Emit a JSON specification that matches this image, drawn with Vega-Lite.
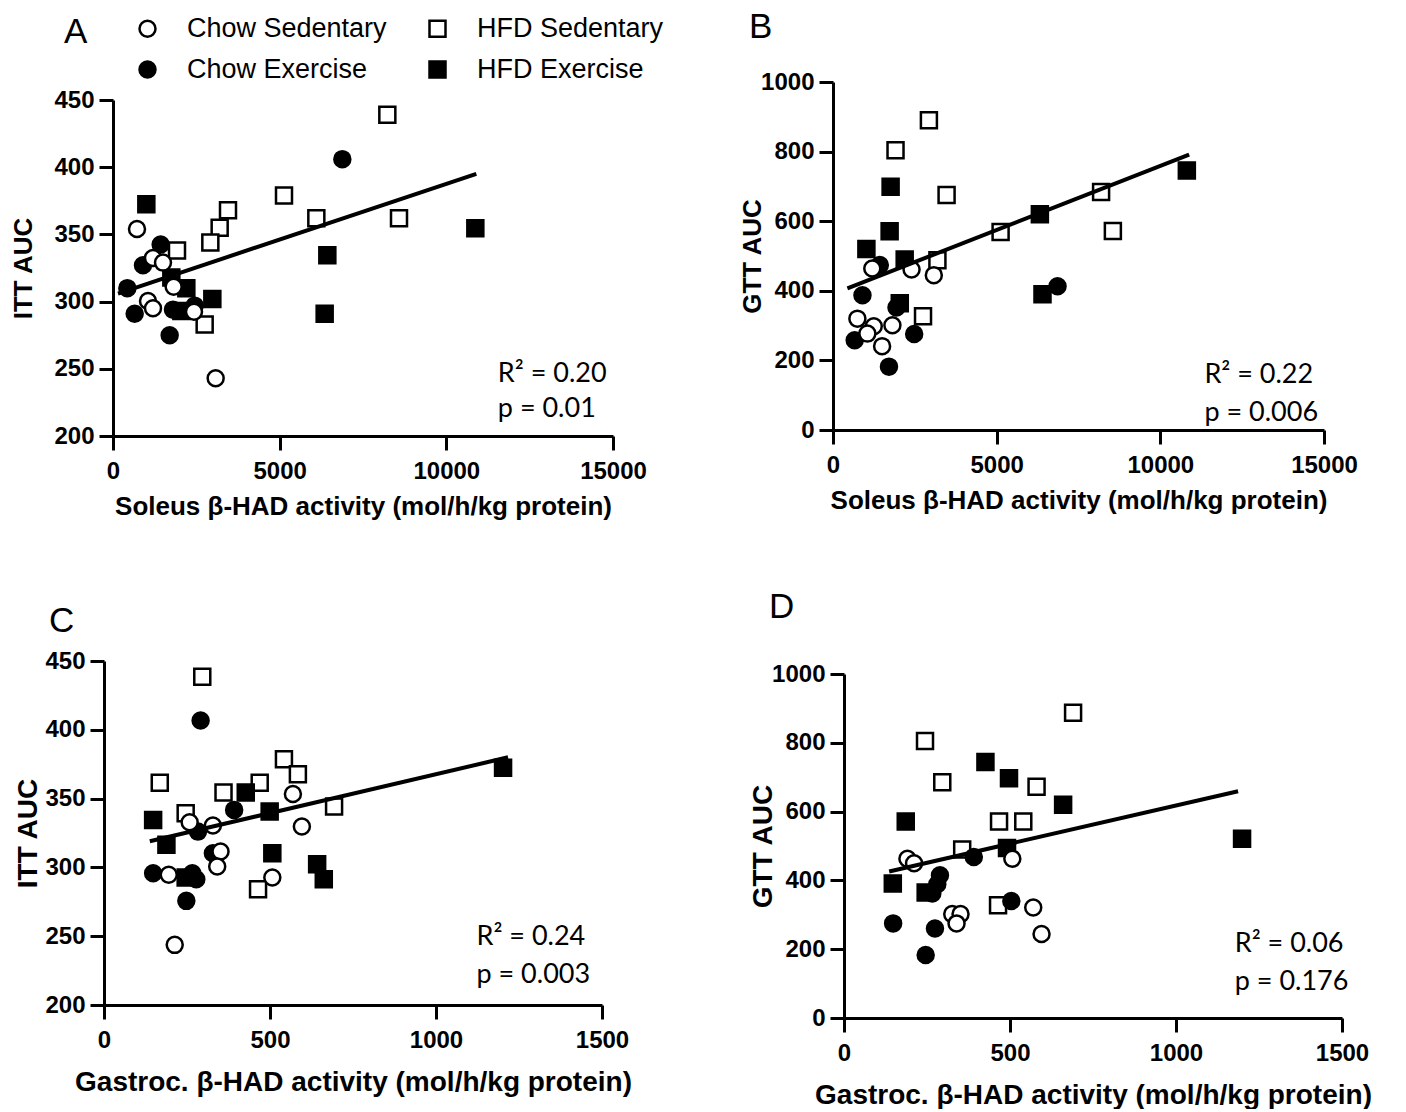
{
  "$schema": "https://vega.github.io/schema/vega-lite/v6.json",
  "background": "white",
  "padding": {"left": 10, "top": 10, "right": 5, "bottom": 0},
  "datasets": {
    "pts": [
      {"panel": "A", "group": "HFD Sedentary", "x": 8230, "y": 439},
      {"panel": "A", "group": "HFD Sedentary", "x": 5130, "y": 379},
      {"panel": "A", "group": "HFD Sedentary", "x": 3450, "y": 368},
      {"panel": "A", "group": "HFD Sedentary", "x": 3200, "y": 355},
      {"panel": "A", "group": "HFD Sedentary", "x": 2920, "y": 344},
      {"panel": "A", "group": "HFD Sedentary", "x": 1920, "y": 338},
      {"panel": "A", "group": "HFD Sedentary", "x": 6100, "y": 362},
      {"panel": "A", "group": "HFD Sedentary", "x": 8580, "y": 362},
      {"panel": "A", "group": "HFD Sedentary", "x": 2750, "y": 283},
      {"panel": "A", "group": "HFD Exercise", "x": 1000, "y": 372.5},
      {"panel": "A", "group": "HFD Exercise", "x": 10870, "y": 354.5},
      {"panel": "A", "group": "HFD Exercise", "x": 6430, "y": 334.5},
      {"panel": "A", "group": "HFD Exercise", "x": 6350, "y": 291},
      {"panel": "A", "group": "HFD Exercise", "x": 2980, "y": 302},
      {"panel": "A", "group": "HFD Exercise", "x": 2200, "y": 310},
      {"panel": "A", "group": "HFD Exercise", "x": 2050, "y": 293},
      {"panel": "A", "group": "HFD Exercise", "x": 1750, "y": 318},
      {"panel": "A", "group": "Chow Exercise", "x": 6880, "y": 406},
      {"panel": "A", "group": "Chow Exercise", "x": 1430, "y": 342.5},
      {"panel": "A", "group": "Chow Exercise", "x": 900, "y": 327},
      {"panel": "A", "group": "Chow Exercise", "x": 430, "y": 310},
      {"panel": "A", "group": "Chow Exercise", "x": 650, "y": 291},
      {"panel": "A", "group": "Chow Exercise", "x": 1700, "y": 275},
      {"panel": "A", "group": "Chow Exercise", "x": 1800, "y": 294},
      {"panel": "A", "group": "Chow Exercise", "x": 2450, "y": 297},
      {"panel": "A", "group": "Chow Sedentary", "x": 720, "y": 354},
      {"panel": "A", "group": "Chow Sedentary", "x": 1200, "y": 332.5},
      {"panel": "A", "group": "Chow Sedentary", "x": 1500, "y": 329},
      {"panel": "A", "group": "Chow Sedentary", "x": 1820, "y": 311},
      {"panel": "A", "group": "Chow Sedentary", "x": 1050, "y": 300.5},
      {"panel": "A", "group": "Chow Sedentary", "x": 1200, "y": 295},
      {"panel": "A", "group": "Chow Sedentary", "x": 2430, "y": 292.5},
      {"panel": "A", "group": "Chow Sedentary", "x": 3080, "y": 243},

      {"panel": "B", "group": "HFD Sedentary", "x": 2930, "y": 890},
      {"panel": "B", "group": "HFD Sedentary", "x": 1910, "y": 804},
      {"panel": "B", "group": "HFD Sedentary", "x": 3470, "y": 675},
      {"panel": "B", "group": "HFD Sedentary", "x": 5120, "y": 569},
      {"panel": "B", "group": "HFD Sedentary", "x": 8190, "y": 684},
      {"panel": "B", "group": "HFD Sedentary", "x": 8550, "y": 572},
      {"panel": "B", "group": "HFD Sedentary", "x": 3190, "y": 488},
      {"panel": "B", "group": "HFD Sedentary", "x": 2750, "y": 327},
      {"panel": "B", "group": "HFD Exercise", "x": 1760, "y": 699},
      {"panel": "B", "group": "HFD Exercise", "x": 1730, "y": 571},
      {"panel": "B", "group": "HFD Exercise", "x": 1020, "y": 520},
      {"panel": "B", "group": "HFD Exercise", "x": 2190, "y": 490},
      {"panel": "B", "group": "HFD Exercise", "x": 10810, "y": 746},
      {"panel": "B", "group": "HFD Exercise", "x": 6320, "y": 620},
      {"panel": "B", "group": "HFD Exercise", "x": 6400, "y": 390},
      {"panel": "B", "group": "HFD Exercise", "x": 2040, "y": 364},
      {"panel": "B", "group": "Chow Exercise", "x": 1430, "y": 474},
      {"panel": "B", "group": "Chow Exercise", "x": 900, "y": 387},
      {"panel": "B", "group": "Chow Exercise", "x": 1940, "y": 352},
      {"panel": "B", "group": "Chow Exercise", "x": 663, "y": 258},
      {"panel": "B", "group": "Chow Exercise", "x": 2480, "y": 276},
      {"panel": "B", "group": "Chow Exercise", "x": 1710, "y": 182},
      {"panel": "B", "group": "Chow Exercise", "x": 6860, "y": 413},
      {"panel": "B", "group": "Chow Sedentary", "x": 1200, "y": 464},
      {"panel": "B", "group": "Chow Sedentary", "x": 2400, "y": 461},
      {"panel": "B", "group": "Chow Sedentary", "x": 3080, "y": 445},
      {"panel": "B", "group": "Chow Sedentary", "x": 745, "y": 320},
      {"panel": "B", "group": "Chow Sedentary", "x": 1245, "y": 298},
      {"panel": "B", "group": "Chow Sedentary", "x": 1815, "y": 301},
      {"panel": "B", "group": "Chow Sedentary", "x": 1050, "y": 277},
      {"panel": "B", "group": "Chow Sedentary", "x": 1500, "y": 241},

      {"panel": "C", "group": "HFD Sedentary", "x": 296, "y": 438.6},
      {"panel": "C", "group": "HFD Sedentary", "x": 168, "y": 361.6},
      {"panel": "C", "group": "HFD Sedentary", "x": 360, "y": 354.4},
      {"panel": "C", "group": "HFD Sedentary", "x": 469, "y": 361.6},
      {"panel": "C", "group": "HFD Sedentary", "x": 542, "y": 378.6},
      {"panel": "C", "group": "HFD Sedentary", "x": 584, "y": 367.7},
      {"panel": "C", "group": "HFD Sedentary", "x": 693, "y": 344.2},
      {"panel": "C", "group": "HFD Sedentary", "x": 246, "y": 339.4},
      {"panel": "C", "group": "HFD Sedentary", "x": 464, "y": 284.2},
      {"panel": "C", "group": "HFD Exercise", "x": 427, "y": 354.4},
      {"panel": "C", "group": "HFD Exercise", "x": 148, "y": 334.5},
      {"panel": "C", "group": "HFD Exercise", "x": 188, "y": 316.4},
      {"panel": "C", "group": "HFD Exercise", "x": 499, "y": 340.6},
      {"panel": "C", "group": "HFD Exercise", "x": 507, "y": 310.3},
      {"panel": "C", "group": "HFD Exercise", "x": 642, "y": 302.3},
      {"panel": "C", "group": "HFD Exercise", "x": 662, "y": 291.4},
      {"panel": "C", "group": "HFD Exercise", "x": 1202, "y": 372.5},
      {"panel": "C", "group": "HFD Exercise", "x": 246, "y": 292.6},
      {"panel": "C", "group": "Chow Exercise", "x": 291, "y": 406.7},
      {"panel": "C", "group": "Chow Exercise", "x": 392, "y": 341.8},
      {"panel": "C", "group": "Chow Exercise", "x": 283, "y": 326},
      {"panel": "C", "group": "Chow Exercise", "x": 328, "y": 310.3},
      {"panel": "C", "group": "Chow Exercise", "x": 148, "y": 295.8},
      {"panel": "C", "group": "Chow Exercise", "x": 278, "y": 291.4},
      {"panel": "C", "group": "Chow Exercise", "x": 248, "y": 275.7},
      {"panel": "C", "group": "Chow Exercise", "x": 266, "y": 295.8},
      {"panel": "C", "group": "Chow Sedentary", "x": 258, "y": 332.8},
      {"panel": "C", "group": "Chow Sedentary", "x": 328, "y": 330.4},
      {"panel": "C", "group": "Chow Sedentary", "x": 569, "y": 353.4},
      {"panel": "C", "group": "Chow Sedentary", "x": 596, "y": 329.7},
      {"panel": "C", "group": "Chow Sedentary", "x": 351, "y": 311.5},
      {"panel": "C", "group": "Chow Sedentary", "x": 341, "y": 300.6},
      {"panel": "C", "group": "Chow Sedentary", "x": 195, "y": 294.6},
      {"panel": "C", "group": "Chow Sedentary", "x": 507, "y": 292.6},
      {"panel": "C", "group": "Chow Sedentary", "x": 213, "y": 243.7},

      {"panel": "D", "group": "HFD Sedentary", "x": 690, "y": 887},
      {"panel": "D", "group": "HFD Sedentary", "x": 244, "y": 805},
      {"panel": "D", "group": "HFD Sedentary", "x": 296, "y": 685},
      {"panel": "D", "group": "HFD Sedentary", "x": 580, "y": 672},
      {"panel": "D", "group": "HFD Sedentary", "x": 467, "y": 571},
      {"panel": "D", "group": "HFD Sedentary", "x": 540, "y": 571},
      {"panel": "D", "group": "HFD Sedentary", "x": 356, "y": 490},
      {"panel": "D", "group": "HFD Sedentary", "x": 464, "y": 328},
      {"panel": "D", "group": "HFD Exercise", "x": 426, "y": 744},
      {"panel": "D", "group": "HFD Exercise", "x": 497, "y": 697},
      {"panel": "D", "group": "HFD Exercise", "x": 660, "y": 620},
      {"panel": "D", "group": "HFD Exercise", "x": 186, "y": 571},
      {"panel": "D", "group": "HFD Exercise", "x": 1199, "y": 521},
      {"panel": "D", "group": "HFD Exercise", "x": 147, "y": 391},
      {"panel": "D", "group": "HFD Exercise", "x": 246, "y": 365},
      {"panel": "D", "group": "HFD Exercise", "x": 491, "y": 494},
      {"panel": "D", "group": "Chow Exercise", "x": 391, "y": 468},
      {"panel": "D", "group": "Chow Exercise", "x": 289, "y": 415},
      {"panel": "D", "group": "Chow Exercise", "x": 281, "y": 389},
      {"panel": "D", "group": "Chow Exercise", "x": 266, "y": 362},
      {"panel": "D", "group": "Chow Exercise", "x": 504, "y": 340},
      {"panel": "D", "group": "Chow Exercise", "x": 148, "y": 275},
      {"panel": "D", "group": "Chow Exercise", "x": 274, "y": 260},
      {"panel": "D", "group": "Chow Exercise", "x": 246, "y": 183},
      {"panel": "D", "group": "Chow Sedentary", "x": 191, "y": 463},
      {"panel": "D", "group": "Chow Sedentary", "x": 211, "y": 450},
      {"panel": "D", "group": "Chow Sedentary", "x": 507, "y": 463},
      {"panel": "D", "group": "Chow Sedentary", "x": 326, "y": 302},
      {"panel": "D", "group": "Chow Sedentary", "x": 351, "y": 302},
      {"panel": "D", "group": "Chow Sedentary", "x": 339, "y": 275},
      {"panel": "D", "group": "Chow Sedentary", "x": 570, "y": 321},
      {"panel": "D", "group": "Chow Sedentary", "x": 595, "y": 244}
    ],
    "lines": [
      {"panel": "A", "x": 150, "y": 306},
      {"panel": "A", "x": 10900, "y": 395},
      {"panel": "B", "x": 440, "y": 407},
      {"panel": "B", "x": 10880, "y": 791},
      {"panel": "C", "x": 138, "y": 319},
      {"panel": "C", "x": 1217, "y": 380},
      {"panel": "D", "x": 136, "y": 426},
      {"panel": "D", "x": 1187, "y": 659}
    ]
  },
  "resolve": {"scale": {"x": "independent", "y": "independent", "fill": "shared", "shape": "shared", "stroke": "shared"}},
  "spacing": 71,
  "vconcat": [
    {
      "resolve": {"scale": {"x": "independent", "y": "independent", "fill": "shared", "shape": "shared", "stroke": "shared"}},
      "spacing": 92,
      "hconcat": [
        {
          "width": 509, "height": 354,
          "title": {"text": "A", "anchor": "start", "frame": "group", "dx": -40, "offset": 32, "fontSize": 35, "font": "Liberation Sans", "fontWeight": "normal", "color": "black"},
          "layer": [
            {
              "data": {"name": "pts"},
              "transform": [{"filter": "datum.panel === 'A'"}],
              "mark": {"type": "point", "filled": true, "strokeWidth": 2.5, "size": 256, "opacity": 1},
              "encoding": {
                "x": {"field": "x", "type": "quantitative", "scale": {"domain": [0, 15000], "range": [9, 509], "nice": false, "zero": false}, "axis": {"values": [0, 5000, 10000, 15000], "format": "d", "title": "Soleus β-HAD activity (mol/h/kg protein)", "titleFontSize": 26, "titlePadding": 10}},
                "y": {"field": "y", "type": "quantitative", "scale": {"domain": [200, 450], "range": [354, 18], "nice": false, "zero": false}, "axis": {"values": [200, 250, 300, 350, 400, 450], "format": "d", "title": "ITT AUC", "offset": -9, "titleFontSize": 26, "titlePadding": 17}},
                "fill": {"field": "group", "type": "nominal", "scale": {"domain": ["Chow Sedentary", "Chow Exercise", "HFD Sedentary", "HFD Exercise"], "range": ["white", "black", "white", "black"]}, "legend": {"title": null}},
                "shape": {"field": "group", "type": "nominal", "scale": {"domain": ["Chow Sedentary", "Chow Exercise", "HFD Sedentary", "HFD Exercise"], "range": ["circle", "circle", "square", "square"]}, "legend": {"title": null}},
                "stroke": {"field": "group", "type": "nominal", "scale": {"domain": ["Chow Sedentary", "Chow Exercise", "HFD Sedentary", "HFD Exercise"], "range": ["black", "black", "black", "black"]}, "legend": {"title": null}}
              }
            },
            {
              "data": {"name": "lines"},
              "transform": [{"filter": "datum.panel === 'A'"}],
              "mark": {"type": "line", "color": "black", "strokeWidth": 4},
              "encoding": {"x": {"field": "x", "type": "quantitative"}, "y": {"field": "y", "type": "quantitative"}}
            },
            {
              "data": {"values": [{}]},
              "mark": {"type": "text", "align": "left", "baseline": "middle", "font": "Lato", "fontSize": 27, "color": "black"},
              "encoding": {"x": {"datum": 11545}, "y": {"datum": 246}, "text": {"value": "R² = 0.20"}}
            },
            {
              "data": {"values": [{}]},
              "mark": {"type": "text", "align": "left", "baseline": "middle", "font": "Lato", "fontSize": 27, "color": "black"},
              "encoding": {"x": {"datum": 11545}, "y": {"datum": 220}, "text": {"value": "p = 0.01"}}
            }
          ]
        },
        {
          "width": 491, "height": 354,
          "title": {"text": "B", "anchor": "start", "frame": "group", "dx": -84, "offset": 25, "fontSize": 35, "font": "Liberation Sans", "fontWeight": "normal", "color": "black"},
          "layer": [
            {
              "data": {"name": "pts"},
              "transform": [{"filter": "datum.panel === 'B'"}],
              "mark": {"type": "point", "filled": true, "strokeWidth": 2.5, "size": 256, "opacity": 1},
              "encoding": {
                "x": {"field": "x", "type": "quantitative", "scale": {"domain": [0, 15000], "nice": false, "zero": false}, "axis": {"values": [0, 5000, 10000, 15000], "format": "d", "title": "Soleus β-HAD activity (mol/h/kg protein)", "offset": -6, "titleFontSize": 26, "titlePadding": 10}},
                "y": {"field": "y", "type": "quantitative", "scale": {"domain": [0, 1000], "range": [348, 0], "nice": false, "zero": false}, "axis": {"values": [0, 200, 400, 600, 800, 1000], "format": "d", "title": "GTT AUC", "titleFontSize": 26, "titlePadding": -5}},
                "fill": {"field": "group", "type": "nominal", "scale": {"domain": ["Chow Sedentary", "Chow Exercise", "HFD Sedentary", "HFD Exercise"], "range": ["white", "black", "white", "black"]}, "legend": {"title": null}},
                "shape": {"field": "group", "type": "nominal", "scale": {"domain": ["Chow Sedentary", "Chow Exercise", "HFD Sedentary", "HFD Exercise"], "range": ["circle", "circle", "square", "square"]}, "legend": {"title": null}},
                "stroke": {"field": "group", "type": "nominal", "scale": {"domain": ["Chow Sedentary", "Chow Exercise", "HFD Sedentary", "HFD Exercise"], "range": ["black", "black", "black", "black"]}, "legend": {"title": null}}
              }
            },
            {
              "data": {"name": "lines"},
              "transform": [{"filter": "datum.panel === 'B'"}],
              "mark": {"type": "line", "color": "black", "strokeWidth": 4},
              "encoding": {"x": {"field": "x", "type": "quantitative"}, "y": {"field": "y", "type": "quantitative"}}
            },
            {
              "data": {"values": [{}]},
              "mark": {"type": "text", "align": "left", "baseline": "middle", "font": "Lato", "fontSize": 27, "color": "black"},
              "encoding": {"x": {"datum": 11347}, "y": {"datum": 158}, "text": {"value": "R² = 0.22"}}
            },
            {
              "data": {"values": [{}]},
              "mark": {"type": "text", "align": "left", "baseline": "middle", "font": "Lato", "fontSize": 27, "color": "black"},
              "encoding": {"x": {"datum": 11347}, "y": {"datum": 49}, "text": {"value": "p = 0.006"}}
            }
          ]
        }
      ]
    },
    {
      "resolve": {"scale": {"x": "independent", "y": "independent", "fill": "shared", "shape": "shared", "stroke": "shared"}},
      "spacing": 117,
      "hconcat": [
        {
          "width": 498, "height": 357,
          "title": {"text": "C", "anchor": "start", "frame": "group", "dx": -55, "offset": 10, "fontSize": 35, "font": "Liberation Sans", "fontWeight": "normal", "color": "black"},
          "layer": [
            {
              "data": {"name": "pts"},
              "transform": [{"filter": "datum.panel === 'C'"}],
              "mark": {"type": "point", "filled": true, "strokeWidth": 2.5, "size": 256, "opacity": 1},
              "encoding": {
                "x": {"field": "x", "type": "quantitative", "scale": {"domain": [0, 1500], "nice": false, "zero": false}, "axis": {"values": [0, 500, 1000, 1500], "format": "d", "title": "Gastroc. β-HAD activity (mol/h/kg protein)", "offset": -13, "titleFontSize": 28, "titlePadding": 16}},
                "y": {"field": "y", "type": "quantitative", "scale": {"domain": [200, 450], "range": [344, 0], "nice": false, "zero": false}, "axis": {"values": [200, 250, 300, 350, 400, 450], "format": "d", "title": "ITT AUC", "titleFontSize": 28, "titlePadding": 2}},
                "fill": {"field": "group", "type": "nominal", "scale": {"domain": ["Chow Sedentary", "Chow Exercise", "HFD Sedentary", "HFD Exercise"], "range": ["white", "black", "white", "black"]}, "legend": {"title": null}},
                "shape": {"field": "group", "type": "nominal", "scale": {"domain": ["Chow Sedentary", "Chow Exercise", "HFD Sedentary", "HFD Exercise"], "range": ["circle", "circle", "square", "square"]}, "legend": {"title": null}},
                "stroke": {"field": "group", "type": "nominal", "scale": {"domain": ["Chow Sedentary", "Chow Exercise", "HFD Sedentary", "HFD Exercise"], "range": ["black", "black", "black", "black"]}, "legend": {"title": null}}
              }
            },
            {
              "data": {"name": "lines"},
              "transform": [{"filter": "datum.panel === 'C'"}],
              "mark": {"type": "line", "color": "black", "strokeWidth": 4},
              "encoding": {"x": {"field": "x", "type": "quantitative"}, "y": {"field": "y", "type": "quantitative"}}
            },
            {
              "data": {"values": [{}]},
              "mark": {"type": "text", "align": "left", "baseline": "middle", "font": "Lato", "fontSize": 27, "color": "black"},
              "encoding": {"x": {"datum": 1122}, "y": {"datum": 249.6}, "text": {"value": "R² = 0.24"}}
            },
            {
              "data": {"values": [{}]},
              "mark": {"type": "text", "align": "left", "baseline": "middle", "font": "Lato", "fontSize": 27, "color": "black"},
              "encoding": {"x": {"datum": 1122}, "y": {"datum": 221.8}, "text": {"value": "p = 0.003"}}
            }
          ]
        },
        {
          "width": 498, "height": 357,
          "title": {"text": "D", "anchor": "start", "frame": "group", "dx": -75, "offset": 36, "fontSize": 35, "font": "Liberation Sans", "fontWeight": "normal", "color": "black"},
          "layer": [
            {
              "data": {"name": "pts"},
              "transform": [{"filter": "datum.panel === 'D'"}],
              "mark": {"type": "point", "filled": true, "strokeWidth": 2.5, "size": 256, "opacity": 1},
              "encoding": {
                "x": {"field": "x", "type": "quantitative", "scale": {"domain": [0, 1500], "nice": false, "zero": false}, "axis": {"values": [0, 500, 1000, 1500], "format": "d", "title": "Gastroc. β-HAD activity (mol/h/kg protein)", "titleFontSize": 28, "titlePadding": 16}},
                "y": {"field": "y", "type": "quantitative", "scale": {"domain": [0, 1000], "range": [357, 13], "nice": false, "zero": false}, "axis": {"values": [0, 200, 400, 600, 800, 1000], "format": "d", "title": "GTT AUC", "titleFontSize": 28, "titlePadding": -6}},
                "fill": {"field": "group", "type": "nominal", "scale": {"domain": ["Chow Sedentary", "Chow Exercise", "HFD Sedentary", "HFD Exercise"], "range": ["white", "black", "white", "black"]}, "legend": {"title": null}},
                "shape": {"field": "group", "type": "nominal", "scale": {"domain": ["Chow Sedentary", "Chow Exercise", "HFD Sedentary", "HFD Exercise"], "range": ["circle", "circle", "square", "square"]}, "legend": {"title": null}},
                "stroke": {"field": "group", "type": "nominal", "scale": {"domain": ["Chow Sedentary", "Chow Exercise", "HFD Sedentary", "HFD Exercise"], "range": ["black", "black", "black", "black"]}, "legend": {"title": null}}
              }
            },
            {
              "data": {"name": "lines"},
              "transform": [{"filter": "datum.panel === 'D'"}],
              "mark": {"type": "line", "color": "black", "strokeWidth": 4},
              "encoding": {"x": {"field": "x", "type": "quantitative"}, "y": {"field": "y", "type": "quantitative"}}
            },
            {
              "data": {"values": [{}]},
              "mark": {"type": "text", "align": "left", "baseline": "middle", "font": "Lato", "fontSize": 27, "color": "black"},
              "encoding": {"x": {"datum": 1177}, "y": {"datum": 216.5}, "text": {"value": "R² = 0.06"}}
            },
            {
              "data": {"values": [{}]},
              "mark": {"type": "text", "align": "left", "baseline": "middle", "font": "Lato", "fontSize": 27, "color": "black"},
              "encoding": {"x": {"datum": 1177}, "y": {"datum": 105}, "text": {"value": "p = 0.176"}}
            }
          ]
        }
      ]
    }
  ],
  "config": {
    "view": {"stroke": null},
    "axis": {
      "grid": false,
      "domainColor": "black", "domainWidth": 3,
      "tickColor": "black", "tickWidth": 3, "tickSize": 14,
      "labelFont": "Liberation Sans", "labelFontWeight": "bold", "labelFontSize": 24, "labelColor": "black",
      "labelOverlap": false, "labelFlush": false,
      "titleFont": "Liberation Sans", "titleFontWeight": "bold", "titleFontSize": 26, "titleColor": "black"
    },
    "axisX": {"labelPadding": 9},
    "axisY": {"labelPadding": 5},
    "legend": {
      "orient": "none", "legendX": 30, "legendY": -67,
      "columns": 2, "columnPadding": 37, "rowPadding": 13,
      "labelOffset": 26, "labelFont": "Liberation Sans", "labelFontSize": 27, "labelColor": "black", "labelLimit": 400,
      "symbolSize": 256, "symbolStrokeWidth": 2.5
    }
  }
}
